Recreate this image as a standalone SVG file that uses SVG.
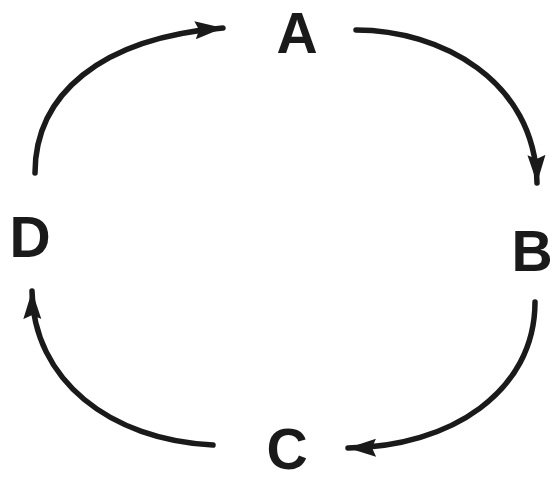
<svg xmlns="http://www.w3.org/2000/svg" width="553" height="481" viewBox="0 0 553 481">
<style>
.lbl{font-family:"Liberation Sans",Arial,sans-serif;font-weight:bold;font-size:57px;fill:#1a1a1a;text-anchor:middle}
.arc{fill:none;stroke:#1a1a1a;stroke-width:5.5;stroke-linecap:round}
</style>
<defs>
<marker id="ah" markerUnits="userSpaceOnUse" markerWidth="30" markerHeight="20" refX="28" refY="9" orient="auto" viewBox="0 0 30 18">
<path d="M0,0 L28,9 L0,18 L4,9 Z" fill="#1a1a1a"/>
</marker>
</defs>
<rect width="553" height="481" fill="#fff"/>
<g id="connectors">
<path class="arc" d="M35,173 C35,95 100,38 223,28" marker-end="url(#ah)"/>
<path class="arc" d="M356,30 C440,30 535,80 537,183" marker-end="url(#ah)"/>
<path class="arc" d="M535,302 C535,392 450,447 348,448" marker-end="url(#ah)"/>
<path class="arc" d="M213,445 C110,440 33,380 32,291" marker-end="url(#ah)"/>
</g>
<g id="node-A"><text class="lbl" x="297" y="53">A</text></g>
<g id="node-B"><text class="lbl" x="532" y="271">B</text></g>
<g id="node-C"><text class="lbl" x="287" y="469">C</text></g>
<g id="node-D"><text class="lbl" x="30" y="257">D</text></g>
</svg>
